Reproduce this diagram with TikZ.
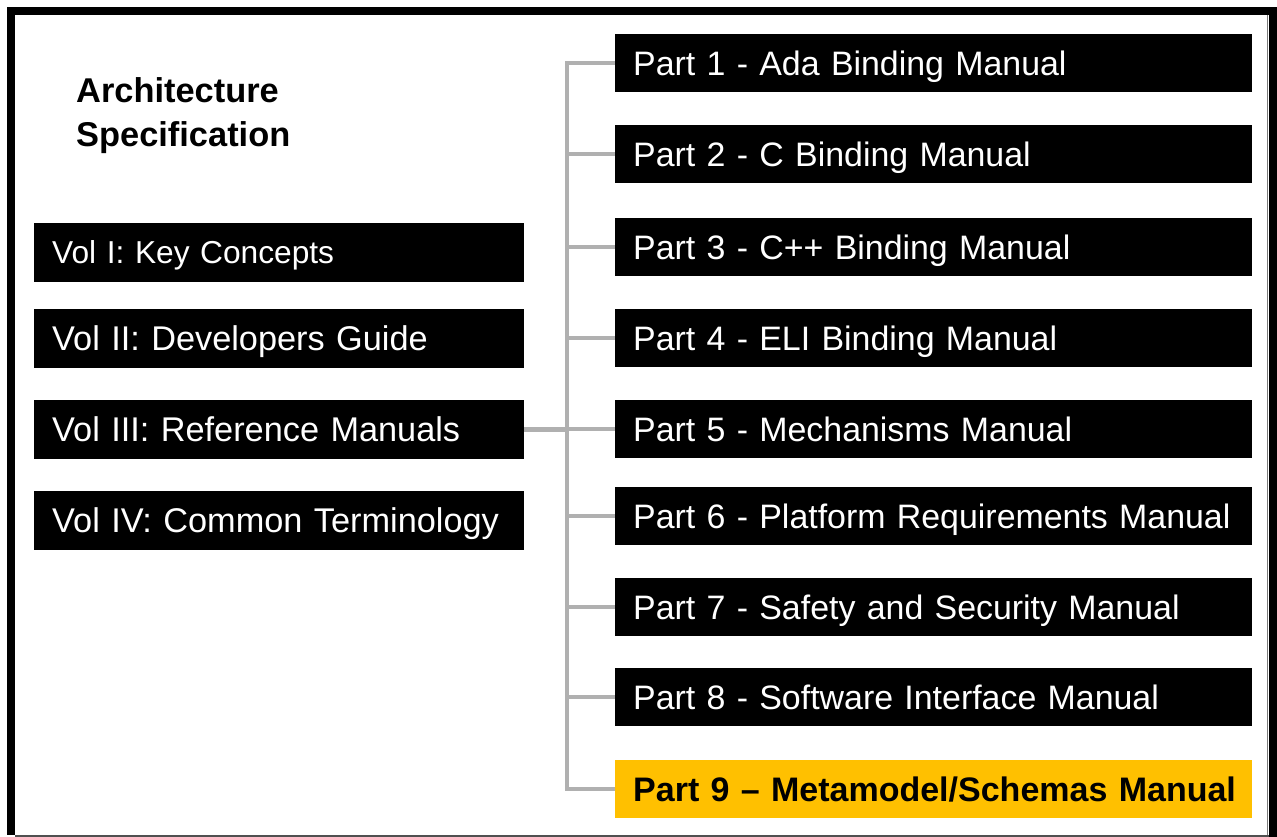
\documentclass[tikz,border=0pt]{standalone}
\usepackage{fontspec}
\setmainfont{Liberation Sans}
\definecolor{linkgray}{HTML}{B0B0B0}
\definecolor{partgold}{HTML}{FFC000}
\definecolor{edgegray}{HTML}{505050}
\tikzset{
  partbox/.style={fill=black, text=white, anchor=north west,
    minimum height=58pt, text width=601pt, inner xsep=18pt, inner ysep=0pt,
    align=left, font=\fontsize{33.9}{40}\selectfont,
    text height=25pt, text depth=0pt},
  volbox/.style={fill=black, text=white, anchor=north west,
    minimum height=59pt, text width=454pt, inner xsep=18pt, inner ysep=0pt,
    align=left, font=\fontsize{34.3}{41}\selectfont,
    text height=24pt, text depth=0pt},
  link/.style={draw=linkgray, line width=4.5pt},
  heading/.style={anchor=base west, align=left, inner sep=0pt,
    font=\fontsize{34.4}{44}\selectfont\bfseries},
}
\begin{document}
\begin{tikzpicture}[x=1pt,y=-1pt]
  \useasboundingbox (0,0) rectangle (1277,837);
  \fill[white] (0,0) rectangle (1277,837);

  % frame
  \fill[black] (7,7) rectangle (1277,15);
  \fill[black] (7,7) rectangle (15,835);
  \fill[black] (1269,7) rectangle (1277,837);
  \fill[edgegray] (15,834.5) rectangle (1269,837);
  \fill[linkgray!70!black] (1266.8,15) rectangle (1267.8,835);

  % heading (base anchor sits on the last line)
  \node[heading] (arch) at (76,147) {Architecture\\Specification};

  % volumes
  \node[volbox, font=\fontsize{31.7}{38}\selectfont, text height=22.5pt] (v1) at (34,223) {Vol I: Key Concepts};
  \node[volbox] (v2) at (34,309) {Vol II: Developers Guide};
  \node[volbox] (v3) at (34,400) {Vol III: Reference Manuals};
  \node[volbox] (v4) at (34,491) {Vol IV: Common Terminology};

  % parts of the reference manuals
  \node[partbox] (p1) at (615,34)  {Part 1 - Ada Binding Manual};
  \node[partbox] (p2) at (615,125) {Part 2 - C Binding Manual};
  \node[partbox] (p3) at (615,218) {Part 3 - C++ Binding Manual};
  \node[partbox] (p4) at (615,309) {Part 4 - ELI Binding Manual};
  \node[partbox] (p5) at (615,400) {Part 5 - Mechanisms Manual};
  \node[partbox] (p6) at (615,487) {\mbox{Part 6 - Platform Requirements Manual}};
  \node[partbox] (p7) at (615,578) {Part 7 - Safety and Security Manual};
  \node[partbox] (p8) at (615,668) {Part 8 - Software Interface Manual};
  \node[partbox, fill=partgold, text=black,
        font=\fontsize{34}{40}\selectfont\bfseries] (p9) at (615,760) {\mbox{Part 9 – Metamodel/Schemas Manual}};

  % connectors
  \coordinate (trunk) at (567,0);
  \draw[link, line join=miter] (p1.west) -- (p1.west -| trunk) -- (p9.west -| trunk) -- (p9.west);
  \foreach \n in {p2,p3,p4,p5,p6,p7,p8}
    \draw[link] (\n.west -| trunk) -- (\n.west);
  \draw[link] (v3.east) -- (v3.east -| trunk);
\end{tikzpicture}
\end{document}
